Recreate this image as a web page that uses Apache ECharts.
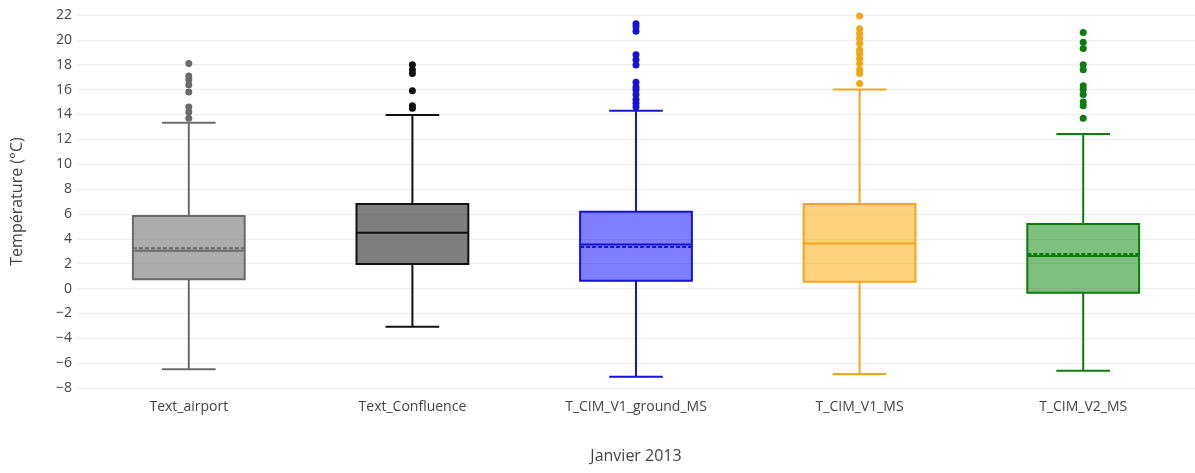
<!DOCTYPE html>
<html>
<head>
<meta charset="utf-8">
<script src="https://cdn.jsdelivr.net/npm/echarts@6/dist/echarts.min.js"></script>
<style>
  html, body { margin: 0; padding: 0; background: #fff; }
  #chart { width: 1195px; height: 473px; }
</style>
</head>
<body>
<div id="chart"></div>
<script>
// box statistics
var categories = ["Text_airport", "Text_Confluence", "T_CIM_V1_ground_MS", "T_CIM_V1_MS", "T_CIM_V2_MS"];
var lowWhisker = [-6.5, -3.07, -7.1, -6.88, -6.61];
var q1 = [0.74, 1.97, 0.63, 0.55, -0.34];
var median = [3.04, 4.49, 3.55, 3.63, 2.61];
var q3 = [5.83, 6.8, 6.18, 6.8, 5.19];
var highWhisker = [13.34, 13.96, 14.3, 16.0, 12.43];
var means = [3.23, null, 3.34, null, 2.78];

var outAirport = [18.1, 17.1, 16.8, 16.4, 15.8, 14.6, 14.2, 13.7];
var outConfluence = [18.0, 17.6, 17.3, 15.9, 14.7, 14.5];
var outGround = [21.3, 21.06, 20.7, 18.8, 18.4, 17.98, 16.6, 16.2, 15.97, 15.6, 15.2, 14.9, 14.6];
var outV1 = [21.92, 20.9, 20.5, 20.1, 19.7, 19.2, 18.9, 18.5, 18.1, 17.6, 17.3, 16.5];
var outV2 = [20.6, 19.8, 19.3, 18.0, 17.6, 16.3, 16.0, 15.6, 15.0, 14.7, 13.7];
var outliers = [outAirport, outConfluence, outGround, outV1, outV2];

var lineColors = ["#6b6b6b", "#111111", "#1414d2", "#f5a612", "#0a7d0a"];
var fillColors = ["rgba(128,128,128,0.65)", "rgba(0,0,0,0.5)", "rgba(0,0,255,0.5)", "rgba(255,165,0,0.5)", "rgba(0,128,0,0.5)"];

var boxData = categories.map(function (c, i) {
  return [i, lowWhisker[i], q1[i], median[i], q3[i], highWhisker[i], means[i] == null ? NaN : means[i]];
});

function renderBox(params, api) {
  var i = params.dataIndex;
  var x = api.value(0);
  var band = api.size([1, 0])[0];
  var half = band * 0.25;
  var cap = band * 0.12;
  var cx = api.coord([x, 0])[0];
  var yLow = api.coord([x, api.value(1)])[1];
  var yQ1 = api.coord([x, api.value(2)])[1];
  var yMed = api.coord([x, api.value(3)])[1];
  var yQ3 = api.coord([x, api.value(4)])[1];
  var yHigh = api.coord([x, api.value(5)])[1];
  var st = { stroke: lineColors[i], lineWidth: 2, fill: null };
  var children = [
    { type: "line", shape: { x1: cx, y1: yQ3, x2: cx, y2: yHigh }, style: st },
    { type: "line", shape: { x1: cx, y1: yQ1, x2: cx, y2: yLow }, style: st },
    { type: "line", shape: { x1: cx - cap, y1: yHigh, x2: cx + cap, y2: yHigh }, style: st },
    { type: "line", shape: { x1: cx - cap, y1: yLow, x2: cx + cap, y2: yLow }, style: st },
    { type: "rect", shape: { x: cx - half, y: yQ3, width: half * 2, height: yQ1 - yQ3 },
      style: { fill: fillColors[i], stroke: lineColors[i], lineWidth: 2 } },
    { type: "line", shape: { x1: cx - half, y1: yMed, x2: cx + half, y2: yMed }, style: st }
  ];
  var m = api.value(6);
  if (!isNaN(m)) {
    var yMean = api.coord([x, m])[1];
    children.push({ type: "line", shape: { x1: cx - half, y1: yMean, x2: cx + half, y2: yMean },
      style: { stroke: lineColors[i], lineWidth: 2, lineDash: [4, 2], fill: null } });
  }
  return { type: "group", children: children };
}

var series = [{
  type: "custom",
  renderItem: renderBox,
  data: boxData,
  encode: { x: 0, y: [1, 2, 3, 4, 5] },
  z: 2
}];
outliers.forEach(function (arr, i) {
  series.push({
    type: "scatter",
    symbolSize: 7,
    itemStyle: { color: lineColors[i], opacity: 1 },
    data: arr.map(function (v) { return [i, v]; }),
    z: 3
  });
});

var myChart = echarts.init(document.getElementById("chart"));
var option = {
  backgroundColor: "#fff",
  animation: false,
  textStyle: { fontFamily: "Open Sans" },
  grid: { left: 77, top: 15, width: 1125, height: 373 },
  xAxis: {
    type: "category",
    data: categories,
    name: "Janvier 2013",
    nameLocation: "middle",
    nameGap: 60,
    nameTextStyle: { color: "#444", fontSize: 16, fontFamily: "Open Sans" },
    axisLine: { show: false },
    axisTick: { show: false },
    axisLabel: { color: "#444", fontSize: 14, margin: 12 },
    splitLine: { show: false }
  },
  yAxis: {
    type: "value",
    min: -8,
    max: 22,
    interval: 2,
    name: "Température (°C)",
    nameLocation: "middle",
    nameGap: 52,
    nameTextStyle: { color: "#444", fontSize: 16, fontFamily: "Open Sans" },
    axisLine: { show: false },
    axisTick: { show: false },
    axisLabel: {
      color: "#444",
      fontSize: 14,
      margin: 5,
      formatter: function (v) { return String(v).replace("-", "\u2212"); }
    },
    splitLine: { lineStyle: { color: "#eeeeee", width: 1 } }
  },
  series: series
};
myChart.setOption(option);
window.addEventListener("resize", function () { myChart.resize(); });
</script>
</body>
</html>
